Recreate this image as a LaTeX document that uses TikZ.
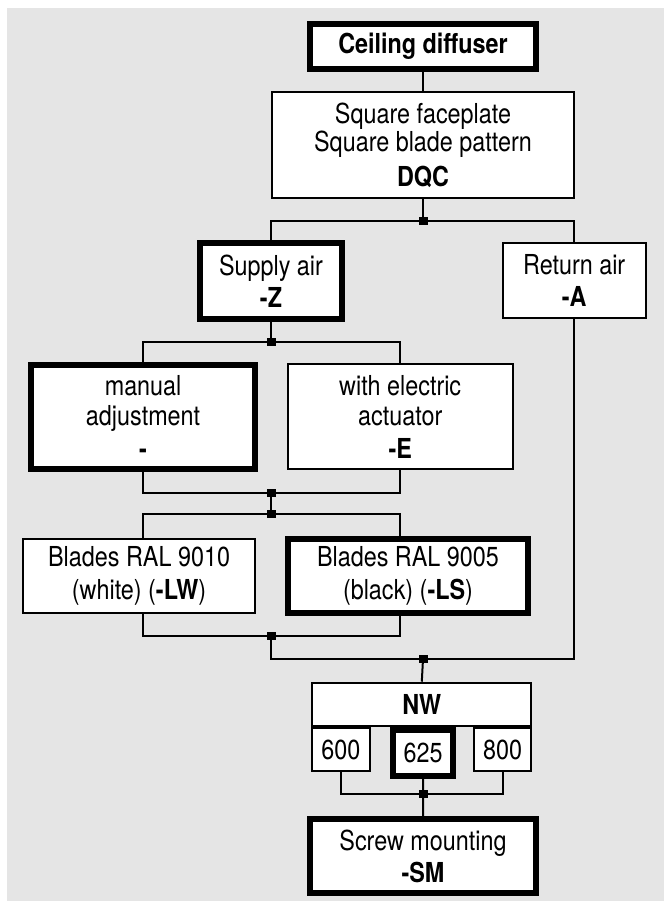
\documentclass[tikz,border=0pt]{standalone}
\usepackage{fontspec}
\setmainfont[FakeStretch=0.85]{TeX Gyre Heros}
\begin{document}
\begin{tikzpicture}[x=1pt,y=-1pt,
  boxfont/.style={font=\fontsize{27.5}{28}\selectfont},
  thinbox/.style={draw, line width=2pt, fill=white, inner sep=0pt, align=center, boxfont},
  thickbox/.style={thinbox, line width=6pt},
  conn/.style={line width=2pt},
  junc/.style={fill=black, draw=none, minimum width=9pt, minimum height=8pt, inner sep=0pt}]
\useasboundingbox (0,0) rectangle (664,901);
\fill[gray!20] (7,8) rectangle (664,901);
% boxes
\node[thickbox, minimum width=226.5pt, minimum height=44.4pt] (ceil) at (423,46.5) {\textbf{Ceiling diffuser}};
\node[thinbox, minimum width=302.5pt, minimum height=105.7pt] (face) at (423,145.2) {Square faceplate\\Square blade pattern\\[7pt]\textbf{DQC}};
\node[thickbox, minimum width=142.2pt, minimum height=75.4pt] (supply) at (271,281) {Supply air\\[4pt]\textbf{-Z}};
\node[thinbox, minimum width=142.8pt, minimum height=75pt] (return) at (574.2,280.8) {Return air\\[4pt]\textbf{-A}};
\node[thickbox, minimum width=224.4pt, minimum height=104.3pt] (manual) at (143.1,417.2) {manual\\[2pt]adjustment\\[5pt]\textbf{-}};
\node[thinbox, minimum width=225pt, minimum height=105pt] (electric) at (400.2,416.5) {with electric\\[2pt]actuator\\[5pt]\textbf{-E}};
\node[thinbox, minimum width=232.2pt, minimum height=74.3pt] (bwhite) at (139.1,575.9) {Blades RAL 9010\\[5pt](white) (\textbf{-LW})};
\node[thickbox, minimum width=240.9pt, minimum height=74.3pt] (bblack) at (408,575.9) {Blades RAL 9005\\[5pt](black) (\textbf{-LS})};
\node[thinbox, minimum width=219pt, minimum height=43pt] (nw) at (421.8,704.2) {\textbf{NW}};
\node[thinbox, minimum width=57.2pt, minimum height=43.6pt] (nsix) at (340.9,749.5) {600};
\node[thickbox, minimum width=59.7pt, minimum height=46.3pt] (ntwo) at (423.2,752.9) {625};
\node[thinbox, minimum width=57.7pt, minimum height=43.6pt] (neight) at (502.5,749.5) {800};
\node[thickbox, minimum width=226.5pt, minimum height=73.7pt] (screw) at (423,855.9) {Screw mounting\\[4pt]\textbf{-SM}};
% junctions
\node[junc] (ja) at (423,221) {};
\node[junc] (jb) at (271,342) {};
\node[junc] (jc) at (271,493) {};
\node[junc] (jd) at (271,514) {};
\node[junc] (je) at (271,636) {};
\node[junc] (jf) at (423,659) {};
\node[junc] (jg) at (423,794) {};
% connectors
\draw[conn] (ceil.south) -- (face.north);
\draw[conn] (face.south) -- (ja.center);
\draw[conn] (ja.center) -| (supply.north);
\draw[conn] (ja.center) -| (return.north);
\draw[conn] (supply.south) -- (jb.center);
\draw[conn] (jb.center) -| (manual.north);
\draw[conn] (jb.center) -| (electric.north);
\draw[conn] (manual.south) |- (jc.center) -| (electric.south);
\draw[conn] (jc.center) -- (jd.center);
\coordinate (bwt) at (manual.south |- bwhite.north);
\coordinate (bbt) at (electric.south |- bblack.north);
\coordinate (bwb) at (manual.south |- bwhite.south);
\coordinate (bbb) at (electric.south |- bblack.south);
\draw[conn] (jd.center) -| (bwt);
\draw[conn] (jd.center) -| (bbt);
\draw[conn] (bwb) |- (je.center) -| (bbb);
\draw[conn] (je.center) |- (jf.center) -| (return.south);
\draw[conn] (jf.center) -- (nw.north);
\draw[conn] (nsix.south) |- (jg.center) -| (neight.south);
\draw[conn] (ntwo.south) -- (jg.center) -- (screw.north);
\end{tikzpicture}
\end{document}
